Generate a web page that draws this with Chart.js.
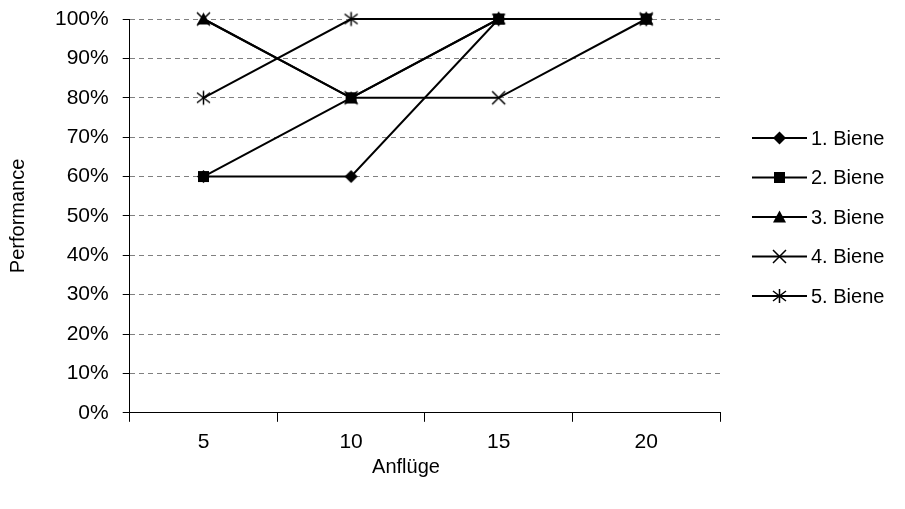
<!DOCTYPE html>
<html>
<head>
<meta charset="utf-8">
<script src="https://cdn.jsdelivr.net/npm/chart.js"></script>
<style>
  html, body { margin: 0; padding: 0; background: #fff; }
  #wrap { width: 905px; height: 509px; position: relative; }
</style>
</head>
<body>
<div id="wrap"><canvas id="c"></canvas></div>
<script>
// data
const categories = ['5', '10', '15', '20'];
const seriesNames = ['1. Biene', '2. Biene', '3. Biene', '4. Biene', '5. Biene'];
const biene1 = [0.6, 0.6, 1.0, 1.0];
const biene2 = [0.6, 0.8, 1.0, 1.0];
const biene3 = [1.0, 0.8, 1.0, 1.0];
const biene4 = [1.0, 0.8, 0.8, 1.0];
const biene5 = [0.8, 1.0, 1.0, 1.0];
const yTicks = [0, 0.1, 0.2, 0.3, 0.4, 0.5, 0.6, 0.7, 0.8, 0.9, 1.0];
const xTitle = 'Anflüge';

const FONT = "'Liberation Sans', Arial, sans-serif";
const markerTypes = ['diamond', 'square', 'triangle', 'x', 'star'];

// draw a marker on a ctx centred at (x, y)
function drawMarker(ctx, type, x, y) {
  ctx.save();
  ctx.fillStyle = '#000';
  ctx.strokeStyle = '#000';
  ctx.lineWidth = 1.5;
  ctx.beginPath();
  if (type === 'diamond') {
    ctx.moveTo(x, y - 6.5); ctx.lineTo(x + 6.5, y); ctx.lineTo(x, y + 6.5); ctx.lineTo(x - 6.5, y);
    ctx.closePath(); ctx.fill();
  } else if (type === 'square') {
    ctx.rect(x - 5.5, y - 5.5, 11, 11); ctx.fill();
  } else if (type === 'triangle') {
    ctx.moveTo(x, y - 6.5); ctx.lineTo(x + 6.5, y + 5.5); ctx.lineTo(x - 6.5, y + 5.5);
    ctx.closePath(); ctx.fill();
  } else if (type === 'x') {
    ctx.moveTo(x - 6.5, y - 6.5); ctx.lineTo(x + 6.5, y + 6.5);
    ctx.moveTo(x + 6.5, y - 6.5); ctx.lineTo(x - 6.5, y + 6.5);
    ctx.stroke();
  } else if (type === 'star') {
    ctx.moveTo(x - 6.5, y - 5); ctx.lineTo(x + 6.5, y + 5);
    ctx.moveTo(x + 6.5, y - 5); ctx.lineTo(x - 6.5, y + 5);
    ctx.moveTo(x, y - 7); ctx.lineTo(x, y + 7);
    ctx.stroke();
  }
  ctx.restore();
}

function markerImage(type) {
  const c = document.createElement('canvas');
  c.width = 17; c.height = 17;
  drawMarker(c.getContext('2d'), type, 8.5, 8.5);
  return c;
}

const allSeries = [biene1, biene2, biene3, biene4, biene5];
const datasets = allSeries.map((vals, i) => ({
  label: seriesNames[i],
  data: vals,
  borderColor: '#000',
  backgroundColor: '#000',
  borderWidth: 2,
  pointStyle: markerImage(markerTypes[i]),
  pointRadius: 7,
  tension: 0,
  fill: false,
  clip: false
}));

// legend (line with marker) and the x axis title, placed like the original
const legendPlugin = {
  id: 'lineLegend',
  afterDraw(chart) {
    const ctx = chart.ctx;
    ctx.save();
    ctx.fillStyle = '#000';
    ctx.textBaseline = 'middle';
    ctx.font = '20px ' + FONT;
    seriesNames.forEach((name, i) => {
      const y = 138 + i * 39.5;
      ctx.strokeStyle = '#000';
      ctx.lineWidth = 2;
      ctx.beginPath();
      ctx.moveTo(752, y); ctx.lineTo(807, y);
      ctx.stroke();
      drawMarker(ctx, markerTypes[i], 779.5, y);
      ctx.fillText(name, 811, y + 1);
    });
    ctx.font = '20px ' + FONT;
    ctx.textAlign = 'center';
    ctx.fillText(xTitle, 406, 467);
    ctx.restore();
  }
};

Chart.defaults.font.family = FONT;
Chart.defaults.font.size = 21;
Chart.defaults.color = '#000';

new Chart(document.getElementById('c'), {
  type: 'line',
  data: { labels: categories, datasets },
  options: {
    responsive: true,
    maintainAspectRatio: false,
    animation: false,
    layout: { padding: { top: 19, right: 185, bottom: 46, left: 4 } },
    plugins: { legend: { display: false }, tooltip: { enabled: false } },
    scales: {
      x: {
        type: 'category',
        offset: true,
        grid: {
          offset: true,
          drawOnChartArea: false,
          color: '#000',
          tickColor: '#000',
          tickLength: 9,
          lineWidth: 1
        },
        border: { color: '#000', width: 1 },
        ticks: { padding: 8, font: { size: 21 } }
      },
      y: {
        min: 0,
        max: 1,
        afterBuildTicks(axis) { axis.ticks = yTicks.map(v => ({ value: v })); },
        afterFit(axis) { axis.paddingTop = 0; axis.paddingBottom = 0; },
        grid: {
          color: ctx => (ctx.tick && ctx.tick.value === 0) ? 'rgba(0,0,0,0)' : '#808080',
          tickColor: '#000',
          tickLength: 7,
          lineWidth: 1
        },
        border: { color: '#000', width: 1, dash: [5, 4] },
        ticks: {
          padding: 14,
          font: { size: 21 },
          callback: v => Math.round(v * 100) + '%'
        },
        title: { display: true, text: 'Performance', font: { size: 20 }, padding: { top: 2, bottom: 11 } }
      }
    }
  },
  plugins: [legendPlugin]
});
</script>
</body>
</html>
